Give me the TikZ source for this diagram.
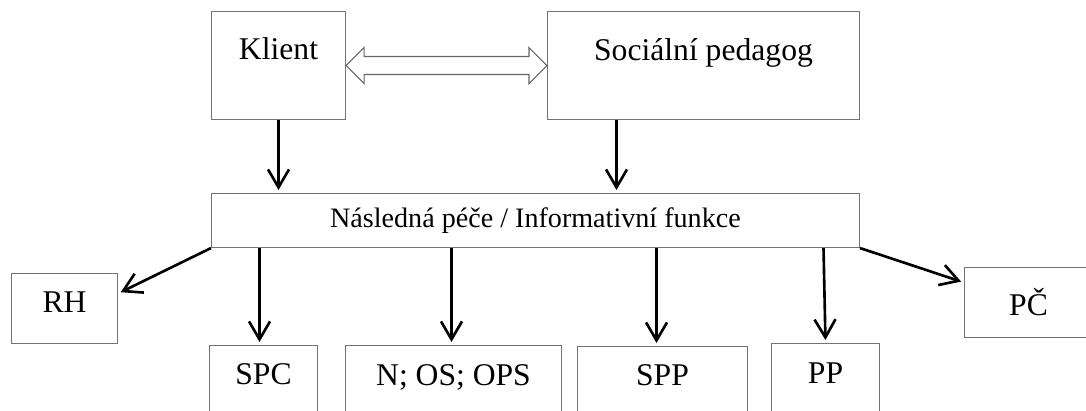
\documentclass[tikz,border=0pt]{standalone}
\usepackage{fontspec}
\setmainfont{Liberation Serif}
\usetikzlibrary{arrows.meta,calc}

\tikzset{
  box/.style={draw=black!55, line width=0.6pt, inner sep=0pt, anchor=north west,
              font=\fontsize{18}{20}\selectfont},
  arr/.style={-{Straight Barb[length=0.36cm,width=0.42cm,line width=1.5pt]},
              line width=1.5pt, shorten >=0.06cm},
  dblarrow/.style={draw=black!60, line width=0.6pt, fill=white}
}

\begin{document}
\begin{tikzpicture}[x=0.02cm, y=-0.02cm]
    \useasboundingbox (0,0) rectangle (1086,411);
    \clip (0,0) rectangle (1086,411);

    % Horni rada
    \node[box, minimum width=2.68cm, text height=0.96cm, text depth=1.2cm]
         (klient) at (211,11) {Klient};
    \node[box, minimum width=6.24cm, text height=0.98cm, text depth=1.18cm]
         (socped) at (547,11) {Sociální pedagog};

    % Oboustranna sipka
    \draw[dblarrow] (klient.east) -- ++(18,-18) -- ++(0,9)
         -- ($(socped.west)+(-18,-9)$) -- ++(0,-9) -- (socped.west)
         -- ++(-18,18) -- ++(0,-9) -- ($(klient.east)+(18,9)$)
         -- ++(0,9) -- cycle;

    % Stredni box
    \node[box, font=\fontsize{16}{18}\selectfont, minimum width=12.96cm,
          text height=0.68cm, text depth=0.4cm]
         (pece) at (211,193) {Následná péče / Informativní funkce};

    \draw[arr] (klient.south) -- (klient.south |- pece.north);
    \draw[arr] ([xshift=-1.74cm]socped.south)
         -- ([xshift=-1.74cm]socped.south |- pece.north);

    % Spodni rada
    \node[box, minimum width=2.12cm, text height=0.78cm, text depth=0.62cm]
         (rh) at (11,273) {RH};
    \node[box, minimum width=2.56cm, text height=0.96cm, text depth=0.44cm]
         (pc) at (964,267) {PČ};
    \node[box, minimum width=2.16cm, text height=0.78cm, text depth=1.0cm]
         (spc) at (209,345) {SPC};
    \node[box, minimum width=4.32cm, text height=0.8cm, text depth=1.0cm]
         (nos) at (345,345) {N; OS; OPS};
    \node[box, minimum width=3.4cm, text height=0.78cm, text depth=1.0cm]
         (spp) at (577,346) {SPP};
    \node[box, minimum width=2.16cm, text height=0.8cm, text depth=1.0cm]
         (pp) at (771,343) {PP};

    \draw[arr] (pece.south west) -- ([yshift=0.3cm]rh.east);
    \draw[arr] ([xshift=-0.08cm]spc.north |- pece.south)
         -- ([xshift=-0.08cm]spc.north);
    \draw[arr] ([xshift=-0.04cm]nos.north |- pece.south)
         -- ([xshift=-0.04cm]nos.north);
    \draw[arr] ([xshift=-0.12cm]spp.north |- pece.south)
         -- ([xshift=-0.12cm]spp.north);
    \draw[arr] ([xshift=-0.04cm]pp.north |- pece.south) -- (pp.north);
    \draw[arr] (pece.south east) -- ([yshift=0.4cm]pc.west);
\end{tikzpicture}
\end{document}
